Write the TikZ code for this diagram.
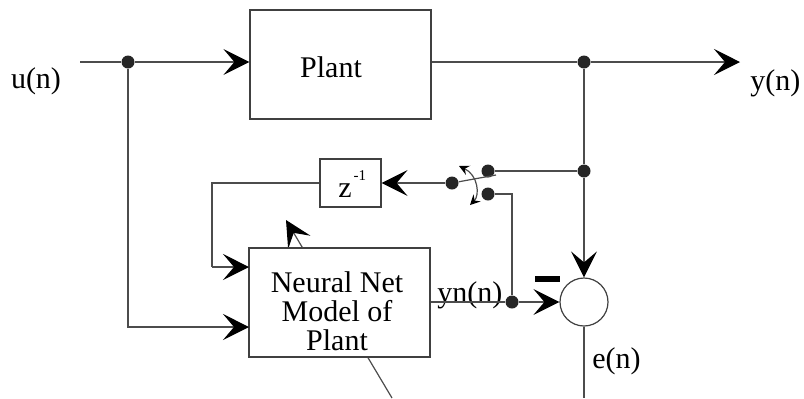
\documentclass[tikz,border=0pt]{standalone}
\usepackage{fontspec}
\setmainfont{Liberation Serif}
\usetikzlibrary{arrows.meta}
\begin{document}
\begin{tikzpicture}[x=0.5pt,y=-0.5pt,
  line/.style={draw=black!70, line width=0.6pt},
  arr/.style={line, -{Stealth[length=13pt,width=13pt,inset=5.5pt,black]}},
  sarr/.style={line, {Stealth[length=5pt,width=5pt,inset=1.8pt,black]}-{Stealth[length=5pt,width=5pt,inset=1.8pt,black]}},
  blockbox/.style={draw=black!75, line width=0.6pt, fill=white, inner sep=0pt},
  dot/.style={circle, fill=black!85, inner sep=0pt, minimum size=6.5pt},
  lbl/.style={font=\fontsize{15}{14.5}\selectfont, inner sep=0pt},
]
\useasboundingbox (0,0) rectangle (804,398);

% coordinates
\coordinate (uS) at (80,62);
\coordinate (yE) at (740,62);
\coordinate (in1) at (249,267);
\coordinate (in2) at (249,327);
\coordinate (fbk) at (212,267);
\coordinate (eE) at (584,398);
\coordinate (adS) at (392,398);
\coordinate (adE) at (286,220);
\coordinate (blade) at (496,175);
\coordinate (cvA) at (459,166);
\coordinate (cvB) at (470,205);

% adaptation arrow (hidden behind the network box)
\draw[arr] (adS) -- (adE);

% blocks
\node[blockbox, minimum width=90.5pt, minimum height=54.5pt] (plant) at (340.5,64.5) {};
\node[blockbox, minimum width=90.5pt, minimum height=54.5pt] (nn) at (339.5,302.5) {};
\node[blockbox, minimum width=30.5pt, minimum height=24pt] (zbox) at (350.5,183) {};
\node[circle, draw=black!75, line width=0.6pt, fill=white, minimum size=24pt, inner sep=0pt] (sum) at (584,302) {};

% texts
\node[lbl, anchor=base] (plantlbl) at (331,77) {Plant};
\node[lbl, align=center] (nnlbl) at (337,311) {Neural Net\\Model of\\Plant};
\node[lbl, anchor=base west] (zlbl) at (338,197) {z\kern1pt\raisebox{8.5pt}{\fontsize{7.5}{7.5}\selectfont -1}};
\node[lbl, anchor=base] (ulbl) at (36,88) {u(n)};
\node[lbl, anchor=base west] (ylbl) at (750,90) {y(n)};
\node[lbl, anchor=base west] (ynlbl) at (437,302) {yn(n)};
\node[lbl, anchor=base west] (elbl) at (592,368) {e(n)};
\node[fill=black, minimum width=12.5pt, minimum height=3pt, inner sep=0pt] (minus) at (547.5,279) {};

% junctions
\node[dot] (j1) at (128,62) {};
\node[dot] (j2) at (584,62) {};
\node[dot] (j3) at (584,171) {};
\node[dot] (swU) at (488,171) {};
\node[dot] (swL) at (488,194) {};
\node[dot] (piv) at (452,183) {};
\node[dot] (j4) at (512,302) {};

% connectors
\draw[line] (uS) -- (j1);
\draw[arr] (j1) -- (j1 -| plant.west);
\draw[arr] (j1) |- (in2);
\draw[line] (j2 -| plant.east) -- (j2);
\draw[arr] (j2) -- (yE);
\draw[line] (j2) -- (j3);
\draw[arr] (j3) -- (sum.north);
\draw[line] (j3) -- (swU);
\draw[line] (swL) -| (j4);
\draw[arr] (piv) -- (zbox.east);
\draw[line] (zbox.west) -| (fbk);
\draw[arr] (fbk) -- (in1);
\draw[line] (nn.east |- j4) -- (j4);
\draw[arr] (j4) -- (sum.west);
\draw[line] (sum.south) -- (eE);
\draw[line] (piv) -- (blade);
\draw[sarr] (cvA) .. controls (478,175) and (480,195) .. (cvB);
\end{tikzpicture}
\end{document}
